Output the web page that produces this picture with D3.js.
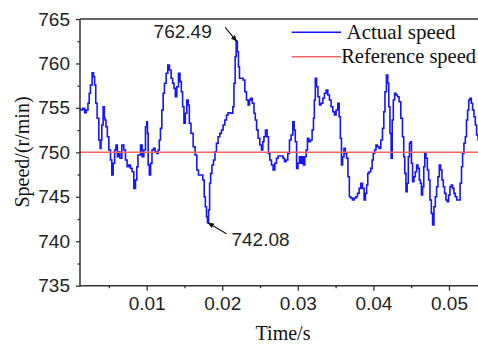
<!DOCTYPE html>
<html><head><meta charset="utf-8">
<script src="https://cdn.jsdelivr.net/npm/d3@7"></script>
<style>body{margin:0;background:#fff;} svg{display:block;}</style>
</head><body><svg id="c" width="478" height="349"></svg>
<script>
// Time in seconds
const time = [0.00118,0.00135,0.00171,0.00188,0.00214,0.00233,0.00246,0.00267,0.00290,0.00303,0.00320,0.00333,0.00356,0.00378,0.00392,0.00400,0.00413,0.00435,0.00445,0.00452,0.00471,0.00488,0.00511,0.00532,0.00545,0.00568,0.00585,0.00603,0.00621,0.00638,0.00656,0.00687,0.00709,0.00730,0.00753,0.00775,0.00796,0.00819,0.00841,0.00863,0.00876,0.00894,0.00908,0.00929,0.00951,0.00974,0.00995,0.01008,0.01013,0.01027,0.01044,0.01061,0.01080,0.01101,0.01123,0.01146,0.01159,0.01176,0.01189,0.01212,0.01225,0.01246,0.01269,0.01291,0.01312,0.01335,0.01352,0.01371,0.01388,0.01410,0.01432,0.01450,0.01467,0.01484,0.01503,0.01520,0.01543,0.01556,0.01573,0.01600,0.01630,0.01652,0.01675,0.01696,0.01732,0.01754,0.01768,0.01785,0.01798,0.01811,0.01828,0.01838,0.01855,0.01873,0.01895,0.01913,0.01934,0.01957,0.01979,0.02000,0.02023,0.02045,0.02067,0.02089,0.02133,0.02146,0.02164,0.02178,0.02191,0.02208,0.02221,0.02235,0.02265,0.02288,0.02310,0.02331,0.02354,0.02367,0.02384,0.02411,0.02429,0.02446,0.02463,0.02486,0.02508,0.02530,0.02543,0.02561,0.02583,0.02605,0.02618,0.02641,0.02662,0.02684,0.02707,0.02728,0.02751,0.02794,0.02813,0.02834,0.02856,0.02879,0.02900,0.02923,0.02945,0.02958,0.02975,0.02993,0.03011,0.03032,0.03046,0.03064,0.03085,0.03099,0.03121,0.03134,0.03157,0.03178,0.03200,0.03214,0.03223,0.03240,0.03257,0.03276,0.03297,0.03320,0.03342,0.03363,0.03386,0.03408,0.03429,0.03452,0.03474,0.03495,0.03518,0.03540,0.03554,0.03571,0.03584,0.03601,0.03620,0.03637,0.03654,0.03673,0.03690,0.03712,0.03734,0.03756,0.03779,0.03800,0.03822,0.03845,0.03866,0.03888,0.03902,0.03919,0.03932,0.03955,0.03977,0.03990,0.04007,0.04025,0.04043,0.04064,0.04087,0.04109,0.04131,0.04144,0.04162,0.04183,0.04197,0.04210,0.04228,0.04242,0.04255,0.04272,0.04289,0.04308,0.04329,0.04351,0.04374,0.04395,0.04408,0.04422,0.04440,0.04453,0.04471,0.04484,0.04497,0.04510,0.04527,0.04546,0.04563,0.04580,0.04599,0.04616,0.04629,0.04642,0.04660,0.04673,0.04686,0.04705,0.04722,0.04739,0.04758,0.04775,0.04792,0.04810,0.04828,0.04845,0.04863,0.04881,0.04898,0.04916,0.04934,0.04951,0.04969,0.04986,0.05004,0.05022,0.05039,0.05057,0.05075,0.05092,0.05115,0.05136,0.05159,0.05172,0.05189,0.05207,0.05225,0.05238,0.05255,0.05268,0.05287,0.05304,0.05321,0.05340,0.05357,0.05374,0.05397];
// Actual speed in r/min
const speed = [754.84,754.76,754.95,754.46,754.76,755.52,756.64,757.57,758.96,758.51,757.57,755.52,753.83,751.39,750.45,751.39,753.07,755.13,753.86,753.64,752.88,751.76,750.26,749.14,747.45,748.77,750.26,750.83,749.51,750.07,749.33,750.83,750.26,749.14,748.38,748.57,748.20,747.82,745.95,746.89,748.38,749.70,749.70,750.83,749.51,750.26,752.88,753.45,752.14,748.57,747.45,748.77,750.26,750.45,750.07,749.89,750.26,751.39,752.70,754.76,756.64,757.77,758.89,759.83,759.26,758.33,757.77,757.20,756.26,757.38,758.89,757.95,756.82,755.13,753.27,754.39,755.89,755.32,753.27,752.14,750.63,749.70,748.01,747.45,747.45,746.89,745.01,743.88,742.76,742.08,743.51,746.52,747.64,748.57,749.14,750.07,751.02,751.76,752.14,752.51,753.07,753.64,754.20,754.46,754.39,755.13,757.77,760.76,762.49,761.32,759.63,758.33,758.33,758.14,756.82,755.89,755.32,755.89,756.08,755.52,754.39,753.64,752.51,751.58,750.83,750.26,751.20,751.76,752.51,751.76,749.89,749.14,748.57,748.01,748.77,749.33,749.59,749.59,749.33,748.95,749.14,749.89,751.39,751.95,753.45,752.51,751.20,748.20,748.77,749.51,748.77,749.51,748.57,749.51,750.26,751.58,751.20,751.39,752.51,753.83,755.89,758.33,757.38,756.26,755.32,755.52,756.08,756.64,757.01,756.45,755.89,755.13,754.57,754.20,754.76,755.52,754.01,751.58,748.57,749.51,750.45,749.89,749.33,747.26,745.01,744.86,744.64,744.83,745.01,745.39,745.95,746.52,745.95,744.64,745.39,746.33,747.64,747.82,748.20,749.14,749.89,750.26,750.83,750.63,750.45,751.39,752.70,754.57,756.82,758.70,757.77,755.13,752.14,749.33,753.64,755.89,756.64,756.45,756.26,755.70,753.83,751.76,749.51,747.64,745.57,746.52,749.51,751.02,751.20,748.77,746.70,747.26,747.82,748.57,748.20,746.89,746.52,745.20,746.13,748.38,749.89,749.33,748.01,746.89,744.64,743.14,741.82,743.88,745.01,746.13,747.26,748.57,748.01,746.89,746.13,745.39,744.64,744.45,745.20,746.13,746.33,745.95,745.39,745.01,744.64,744.64,746.52,748.38,749.89,751.02,751.76,753.64,754.76,755.89,756.08,755.52,754.76,754.01,753.07,751.95,751.40];
const referenceSpeed = 750;
const xTicks = [0.01, 0.02, 0.03, 0.04, 0.05];
const xTickLabels = ["0.01", "0.02", "0.03", "0.04", "0.05"];
const xMinorTicks = [0.005, 0.015, 0.025, 0.035, 0.045];
const yTicks = [735, 740, 745, 750, 755, 760, 765];
const yMinorTicks = [737.5, 742.5, 747.5, 752.5, 757.5, 762.5];
const seriesNames = ["Actual speed", "Reference speed"];
const seriesColors = ["#1414ff", "#f06464"];
const annotationLabels = ["762.49", "742.08"];
const annotationTimes = [0.02191, 0.01811];
const annotationValues = [762.49, 742.08];

const svg = d3.select("#c");
const L = 80, R = 478, T = 19, B = 285.7;
const x = d3.scaleLinear().domain([0.00118, 0.05384]).range([L, R]);
const y = d3.scaleLinear().domain([735, 765]).range([B, T]);
const axisColor = "#333";
const tickFont = "'Liberation Sans', Arial, sans-serif";
const serif = "'Liberation Serif', 'Times New Roman', serif";

svg.append("defs").append("clipPath").attr("id", "clip")
  .append("rect").attr("x", L).attr("y", T).attr("width", R - L).attr("height", B - T);

const data = time.map((t, i) => [t, speed[i]]);
const line = d3.line().x(d => x(d[0])).y(d => y(d[1])).curve(d3.curveStep);
svg.append("path").datum(data).attr("clip-path", "url(#clip)")
  .attr("d", line).attr("fill", "none").attr("stroke", seriesColors[0])
  .attr("stroke-width", 1.6).attr("stroke-linejoin", "miter");

svg.append("line").attr("clip-path", "url(#clip)")
  .attr("x1", L).attr("x2", R).attr("y1", y(referenceSpeed)).attr("y2", y(referenceSpeed))
  .attr("stroke", seriesColors[1]).attr("stroke-width", 1.5);

// Axes
const yAxis = svg.append("g").attr("transform", `translate(${L},0)`)
  .call(d3.axisLeft(y).tickValues(yTicks).tickFormat(d3.format("d")).tickSize(4).tickPadding(6));
const yMinor = svg.append("g").attr("transform", `translate(${L},0)`)
  .call(d3.axisLeft(y).tickValues(yMinorTicks).tickFormat("").tickSize(2.5));
const xAxis = svg.append("g").attr("transform", `translate(0,${B})`)
  .call(d3.axisBottom(x).tickValues(xTicks).tickFormat((d, i) => xTickLabels[i]).tickSize(5).tickPadding(6));
const xMinor = svg.append("g").attr("transform", `translate(0,${B})`)
  .call(d3.axisBottom(x).tickValues(xMinorTicks).tickFormat("").tickSize(2.5));
[yAxis, yMinor, xAxis, xMinor].forEach(g => {
  g.select(".domain").remove();
  g.selectAll(".tick line").attr("stroke", axisColor).attr("stroke-width", 1.3);
  g.selectAll(".tick text").attr("fill", "#222").style("font-family", tickFont).style("font-size", "19px");
});
svg.append("line").attr("x1", L).attr("x2", L).attr("y1", T).attr("y2", B + 0.7).attr("stroke", axisColor).attr("stroke-width", 1.5);
svg.append("line").attr("x1", L).attr("x2", R).attr("y1", B).attr("y2", B).attr("stroke", axisColor).attr("stroke-width", 1.5);
svg.append("line").attr("x1", L).attr("x2", R).attr("y1", T).attr("y2", T).attr("stroke", axisColor).attr("stroke-width", 1.5);

// Axis titles
svg.append("text").attr("x", 283).attr("y", 340).attr("text-anchor", "middle")
  .style("font-family", serif).style("font-size", "20px").attr("fill", "#111").text("Time/s");
svg.append("text").attr("transform", "translate(29,152) rotate(-90)").attr("text-anchor", "middle")
  .style("font-family", serif).style("font-size", "20px").attr("fill", "#111").text("Speed/(r/min)");

// Legend
const legendY = [32.3, 56.7];
const legendFont = ["21px", "20.5px"];
seriesNames.forEach((name, i) => {
  svg.append("line").attr("x1", 291.7).attr("x2", 341).attr("y1", legendY[i]).attr("y2", legendY[i])
    .attr("stroke", seriesColors[i]).attr("stroke-width", 1.5);
  svg.append("text").attr("x", i === 0 ? 346.5 : 341.2).attr("y", legendY[i] + 6.5)
    .style("font-family", serif).style("font-size", legendFont[i]).attr("fill", "#111").text(name);
});

// Annotations
const defs = svg.select("defs");
defs.append("marker").attr("id", "arr").attr("viewBox", "0 0 10 10").attr("refX", 9).attr("refY", 5)
  .attr("markerWidth", 6).attr("markerHeight", 6).attr("orient", "auto")
  .append("path").attr("d", "M0,1 L10,5 L0,9 Z").attr("fill", "#111");
// peak
{
  const px = x(annotationTimes[0]), py = y(annotationValues[0]);
  svg.append("line").attr("x1", px - 11.5).attr("y1", py - 14).attr("x2", px).attr("y2", py)
    .attr("stroke", "#111").attr("stroke-width", 1.1).attr("marker-end", "url(#arr)");
  svg.append("text").attr("x", px - 54).attr("y", py - 3).attr("text-anchor", "middle")
    .style("font-family", tickFont).style("font-size", "19px").attr("fill", "#222").text(annotationLabels[0]);
}
// trough
{
  const px = x(annotationTimes[1]), py = y(annotationValues[1]);
  svg.append("line").attr("x1", px + 18.5).attr("y1", py + 11).attr("x2", px).attr("y2", py)
    .attr("stroke", "#111").attr("stroke-width", 1.1).attr("marker-end", "url(#arr)");
  svg.append("text").attr("x", px + 23.5).attr("y", py + 23).attr("text-anchor", "start")
    .style("font-family", tickFont).style("font-size", "19px").attr("fill", "#222").text(annotationLabels[1]);
}
</script></body></html>
